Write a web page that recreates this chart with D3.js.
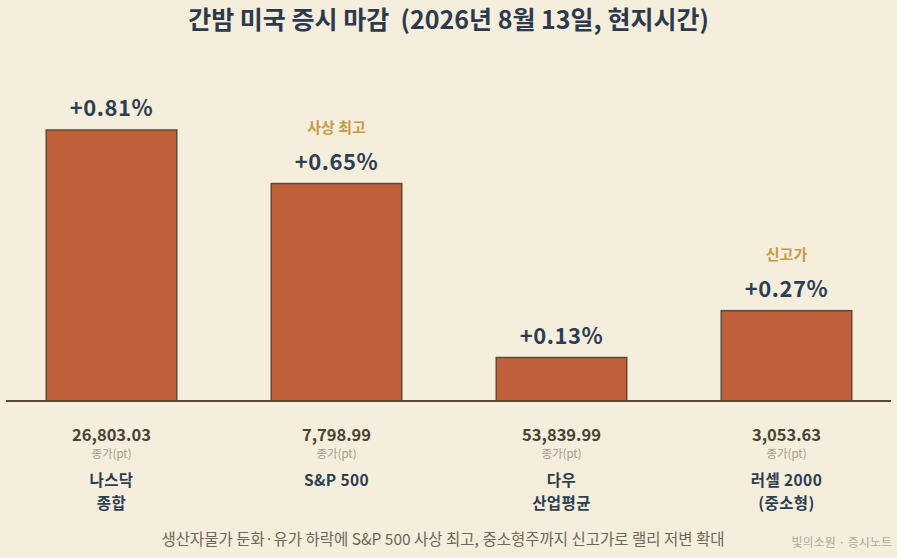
<!DOCTYPE html>
<html><head><meta charset="utf-8">
<script src="https://cdn.jsdelivr.net/npm/d3@7"></script>
<style>
html,body{margin:0;padding:0;background:#f5eedd;}
svg{display:block;font-family:"Noto Sans CJK KR","Noto Sans",sans-serif;}
</style></head><body>
<svg id="c" width="897" height="558"></svg>
<script>
const names = [["나스닥","종합"],["S&P 500"],["다우","산업평균"],["러셀 2000","(중소형)"]];
const changes = [0.81, 0.65, 0.13, 0.27];
const closes = ["26,803.03","7,798.99","53,839.99","3,053.63"];
const badges = ["", "사상 최고", "", "신고가"];
const titleText = "간밤 미국 증시 마감  (2026년 8월 13일, 현지시간)";
const footText = "생산자물가 둔화·유가 하락에 S&P 500 사상 최고, 중소형주까지 신고가로 랠리 저변 확대";
const creditText = "빛의소원 · 증시노트";

const svg = d3.select("#c");
const W = 897, H = 558, baseY = 401;
svg.append("rect").attr("width",W).attr("height",H).attr("fill","#f5eedd");

const idx = d3.range(changes.length);
const x = d3.scaleBand().domain(idx).range([-1, 899]).paddingInner(0.42).paddingOuter(0.21);
const y = d3.scaleLinear().domain([0, 0.81]).range([baseY, 130]);

svg.append("text").attr("x", W/2).attr("y", 29).attr("text-anchor","middle")
  .style("white-space","pre")
  .attr("font-size", 25).attr("font-weight", 700).attr("fill","#2c3a4c").text(titleText);

svg.selectAll("rect.bar").data(idx).join("rect").attr("class","bar")
  .attr("x", i => x(i)).attr("width", x.bandwidth())
  .attr("y", i => y(changes[i])).attr("height", i => baseY - y(changes[i]))
  .attr("fill","#c0603a").attr("stroke","#5b4a38").attr("stroke-width",1.5);

svg.append("line").attr("x1",6).attr("x2",891).attr("y1",baseY).attr("y2",baseY)
  .attr("stroke","#5b4a38").attr("stroke-width",2);

const cx = i => x(i) + x.bandwidth()/2;

svg.selectAll("text.val").data(idx).join("text").attr("class","val")
  .attr("x", cx).attr("y", i => y(changes[i]) - 14).attr("text-anchor","middle")
  .attr("font-size", 22).attr("font-weight", 700).attr("fill","#2c3e52")
  .attr("letter-spacing", 0.5)
  .text(i => "+" + changes[i].toFixed(2) + "%");

svg.selectAll("text.badge").data(idx.filter(i => badges[i])).join("text").attr("class","badge")
  .attr("x", cx).attr("y", i => y(changes[i]) - 51).attr("text-anchor","middle")
  .attr("font-size", 15).attr("font-weight", 700).attr("fill","#c89a45")
  .text(i => badges[i]);

svg.selectAll("text.close").data(idx).join("text").attr("class","close")
  .attr("x", cx).attr("y", 441).attr("text-anchor","middle")
  .attr("font-size", 16.5).attr("font-weight", 700).attr("fill","#4a4234")
  .text(i => closes[i]);

svg.selectAll("text.unit").data(idx).join("text").attr("class","unit")
  .attr("x", cx).attr("y", 458).attr("text-anchor","middle")
  .attr("font-size", 11.5).attr("fill","#a39a8a")
  .text("종가(pt)");

const nm = svg.selectAll("text.name").data(idx).join("text").attr("class","name")
  .attr("text-anchor","middle").attr("font-size", 15.5).attr("font-weight", 700).attr("fill","#2c3e52")
  .attr("letter-spacing", 0.4);
nm.each(function(i){
  const t = d3.select(this);
  names[i].forEach((ln, k) => {
    t.append("tspan").attr("x", cx(i)).attr("y", 486 + k*22.5).text(ln);
  });
});

svg.append("text").attr("x", 443).attr("y", 545).attr("text-anchor","middle")
  .attr("font-size", 15.5).attr("fill","#6e6658").text(footText);
svg.append("text").attr("x", 892).attr("y", 547).attr("text-anchor","end")
  .attr("font-size", 12).attr("fill","#b2aa9a").text(creditText);
</script>
</body></html>
